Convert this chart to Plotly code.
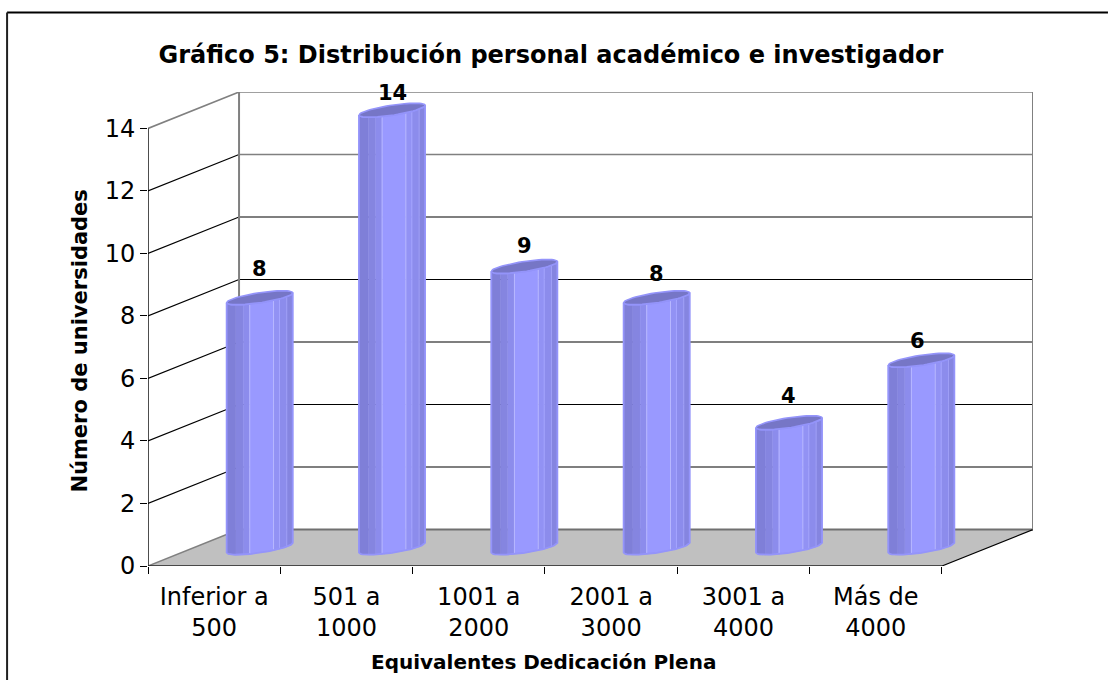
import math
import plotly.graph_objects as go

# ---- data ----
categories = ["Inferior a<br>500", "501 a<br>1000", "1001 a<br>2000", "2001 a<br>3000", "3001 a<br>4000", "Más de<br>4000"]
values = [8, 14, 9, 8, 4, 6]
y_ticks = [0, 2, 4, 6, 8, 10, 12, 14]
title_text = "Gráfico 5: Distribución personal académico e investigador"
x_title = "Equivalentes Dedicación Plena"
y_title = "Número de universidades"

# ---- oblique 3D look, expressed in axis units ----
DX, DY = 0.688, 1.167          # depth of the box
A, SKEW, RISE = 0.179, 0.174, 0.224   # cylinder footprint
LABEL_SHIFT = [29, 17, 21, 24, 27, 19]
LABEL_XSHIFT = [0, 0, 0, 0, 0, -4]
BAND_EDGES = [0, .14, .25, .35, .71, .80, .91, 1]
BAND_COLORS = ["#7f7fd8", "#8585e0", "#8c8cec", "#9999ff", "#9292f4", "#8c8cec", "#8585e0"]
SEAM_EDGES = {.35: "#b8b8ff", .71: "#b8b8ff", .80: "#a4a4ff", .91: "#a0a0f8"}

L, R, T, B = 147.5, 75, 92, 114
W, H = 1108, 680
n = len(categories)
x_max = n + DX
y_max = max(y_ticks) + DY

fig = go.Figure()


def poly(xs, ys, fill=None, line="rgba(0,0,0,0)", width=1, mode="lines"):
    fig.add_trace(go.Scatter(x=xs, y=ys, mode=mode, fill="toself" if fill else None,
                             fillcolor=fill, line=dict(color=line, width=width),
                             hoverinfo="skip", showlegend=False, cliponaxis=False))


# floor
poly([0, n, n + DX, DX, 0], [0, 0, DY, DY, 0], fill="#c0c0c0")
poly([DX, n + DX], [DY, DY], line="#707070", width=2)
poly([0, DX], [0, DY], line="#808080", width=1.5)
poly([n, n + DX], [0, DY], line="#000000", width=1.2)

# walls and gridlines
top = max(y_ticks)
for v in y_ticks[1:]:
    c = "#808080" if v >= 12 else "#000000"
    poly([DX, n + DX], [v + DY, v + DY], line=c, width=1.6 if v >= 12 else 1.2)
    poly([0, DX], [v, v + DY], line="#808080" if v == top else "#000000", width=1.6 if v == top else 1.2)
poly([DX, DX], [DY, top + DY], line="#808080", width=2)
poly([n + DX, n + DX], [DY, top + DY], line="#808080", width=2)

# front axis lines
poly([0, 0], [0, top], line="#000000", width=1.4)
poly([0, n], [0, 0], line="#202020", width=1.6)

# cylinders
ALPHA = math.atan2(SKEW, A)


def rim(cx, level, s):
    """Point on the front half of a cylinder rim; s runs 0..1 left to right."""
    theta = math.pi + math.acos(1 - 2 * s)
    t = theta + ALPHA
    u, v = math.cos(t), math.sin(t)
    return cx + A * u + SKEW * v, level + RISE * v


def rim_full(cx, level, t):
    u, v = math.cos(t), math.sin(t)
    return cx + A * u + SKEW * v, level + RISE * v


centers = [i + 0.5 + DX / 2 for i in range(n)]
levels = [v + DY / 2 for v in values]
base = DY / 2

for j, color in enumerate(BAND_COLORS):
    xs, ys = [], []
    for cx, lv in zip(centers, levels):
        ss = [BAND_EDGES[j] + (BAND_EDGES[j + 1] - BAND_EDGES[j]) * k / 4 for k in range(5)]
        upper = [rim(cx, lv, s) for s in ss]
        lower = [rim(cx, base, s) for s in reversed(ss)]
        pts = upper + lower + [upper[0]]
        xs += [p[0] for p in pts] + [None]
        ys += [p[1] for p in pts] + [None]
    poly(xs, ys, fill=color, line=color, width=0.5)

for edge, color in SEAM_EDGES.items():
    xs, ys = [], []
    for cx, lv in zip(centers, levels):
        a, b = rim(cx, lv, edge), rim(cx, base, edge)
        xs += [a[0], b[0], None]
        ys += [a[1], b[1], None]
    poly(xs, ys, line=color, width=1)

# outlines and caps
for cx, lv in zip(centers, levels):
    ss = [k / 40 for k in range(41)]
    up = [rim(cx, lv, s) for s in ss]
    lo = [rim(cx, base, s) for s in reversed(ss)]
    pts = up + lo + [up[0]]
    poly([p[0] for p in pts], [p[1] for p in pts], line="#9494fa", width=1.8)
    cap = [rim_full(cx, lv, 2 * math.pi * k / 60) for k in range(61)]
    poly([p[0] for p in cap], [p[1] for p in cap], fill="#7676c6", line="#9494fa", width=1.6)

# data labels
for cx, lv, v, sh, xsh in zip(centers, levels, values, LABEL_SHIFT, LABEL_XSHIFT):
    fig.add_annotation(x=cx, y=lv, text=f"<b>{v}</b>", showarrow=False, yshift=sh, xshift=xsh,
                       font=dict(size=21, color="#000000", family="DejaVu Sans"))

plot_w, plot_h = W - L - R, H - T - B
def px(x): return (x - L) / plot_w
def py(y): return 1 - (y - T) / plot_h

# axis titles
fig.add_annotation(xref="paper", yref="paper", x=px(543), y=py(662), xanchor="center", yanchor="middle",
                   text=f"<b>{x_title}</b>", showarrow=False,
                   font=dict(size=20, color="#000000", family="DejaVu Sans"))
fig.add_annotation(xref="paper", yref="paper", x=px(79), y=py(341), xanchor="center", yanchor="middle",
                   text=f"<b>{y_title}</b>", textangle=-90, showarrow=False,
                   font=dict(size=21, color="#000000", family="DejaVu Sans"))

fig.update_layout(
    width=W, height=H, autosize=False,
    margin=dict(l=L, r=R, t=T, b=B, pad=0),
    paper_bgcolor="#ffffff", plot_bgcolor="#ffffff",
    font=dict(family="DejaVu Sans", color="#000000"),
    title=dict(text=f"<b>{title_text}</b>", x=551 / W, xanchor="center", y=1 - 55 / H, yanchor="middle",
               font=dict(size=24, color="#000000", family="DejaVu Sans")),
    xaxis=dict(range=[0, x_max], showgrid=False, zeroline=False, showline=False,
               tickmode="array", tickvals=[i + 0.5 for i in range(n)], ticktext=categories,
               ticks="", ticklabelstandoff=14, tickfont=dict(size=24, color="#000000"),
               minor=dict(tickmode="array", tickvals=list(range(n + 1)), ticks="outside",
                          ticklen=7, tickwidth=1, tickcolor="#000000", showgrid=False)),
    yaxis=dict(range=[0, y_max], showgrid=False, zeroline=False, showline=False,
               tickmode="array", tickvals=y_ticks, ticks="outside", ticklen=7, tickwidth=1,
               tickcolor="#000000", tickfont=dict(size=24, color="#000000")),
    shapes=[
        dict(type="line", xref="paper", yref="paper", x0=px(6.5), x1=px(W), y0=py(12.5), y1=py(12.5),
             line=dict(color="#000000", width=2)),
        dict(type="line", xref="paper", yref="paper", x0=px(6.5), x1=px(6.5), y0=py(12.5), y1=py(H),
             line=dict(color="#202020", width=2)),
    ],
)

fig.write_html("out.html", config=dict(displayModeBar=False), post_script="document.body.style.margin='0';")
